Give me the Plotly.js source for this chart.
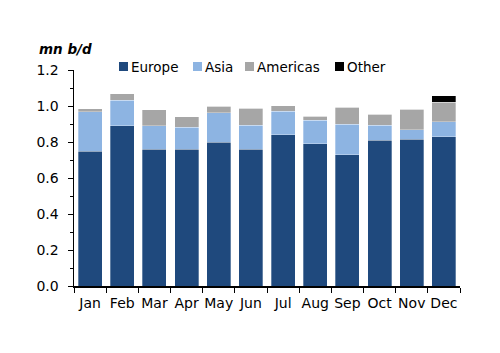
<!DOCTYPE html>
<html><head><meta charset="utf-8">
<script src="https://cdn.plot.ly/plotly-3.0.1.min.js"></script>
<style>body{margin:0;background:#fff}#c{width:500px;height:353px}</style>
</head><body><div id="c"></div>
<script>
const months = ["Jan","Feb","Mar","Apr","May","Jun","Jul","Aug","Sep","Oct","Nov","Dec"];
const europe   = [0.75, 0.89, 0.76, 0.76, 0.80, 0.76, 0.84, 0.79, 0.73, 0.81, 0.815, 0.83];
const asia     = [0.217, 0.141, 0.130, 0.121, 0.163, 0.134, 0.130, 0.130, 0.170, 0.083, 0.054, 0.083];
const americas = [0.018, 0.037, 0.089, 0.058, 0.037, 0.093, 0.031, 0.022, 0.092, 0.060, 0.112, 0.109];
const other    = [0, 0, 0, 0, 0, 0, 0, 0, 0, 0, 0, 0.035];
const seriesNames  = ["Europe", "Asia", "Americas", "Other"];
const seriesColors = ["#1F497D", "#8DB4E2", "#A6A6A6", "#000000"];
const seriesValues = [europe, asia, americas, other];

const FONT = "DejaVu Sans";
const font = {family: FONT, size: 14, color: "#000"};
const legFont = {family: FONT, size: 13.5, color: "#000"};

// plot area in pixels (for placing the hand-made legend)
const W = 500, H = 353, M = {l: 74, r: 40, t: 70, b: 67};
const pw = W - M.l - M.r, ph = H - M.t - M.b;
const px = v => (v - M.l) / pw;
const py = v => (H - M.b - v) / ph;

const data = seriesNames.map((n, i) => ({
  type: "bar", name: n, x: months, y: seriesValues[i], showlegend: false,
  marker: {color: seriesColors[i], line: {color: "rgba(255,255,255,0.6)", width: 0.5}}
}));

const legendLeft = [119, 193, 245, 335];
const shapes = [], annotations = [];
seriesNames.forEach((n, i) => {
  const x0 = legendLeft[i];
  shapes.push({type: "rect", xref: "paper", yref: "paper",
    x0: px(x0), x1: px(x0 + 9), y0: py(71), y1: py(62),
    fillcolor: seriesColors[i], line: {width: 0}});
  annotations.push({text: n, xref: "paper", yref: "paper", x: px(x0 + 10), y: py(66.5),
    xanchor: "left", yanchor: "middle", showarrow: false, font: legFont});
});
annotations.push({text: "<b><i>mn b/d</i></b>", xref: "paper", yref: "paper",
  x: px(37), y: py(49), xanchor: "left", yanchor: "middle", showarrow: false, font: legFont});

const layout = {
  width: W, height: H, margin: M,
  barmode: "stack", bargap: 0.25,
  font: font, showlegend: false,
  xaxis: {showline: true, linecolor: "#000", linewidth: 1.5, ticks: "outside",
    tickson: "boundaries", ticklen: 5, tickcolor: "#000", showgrid: false,
    tickangle: 0, tickfont: font, ticklabelstandoff: 4},
  yaxis: {range: [0, 1.2], dtick: 0.2, tickformat: ".1f", showline: true,
    linecolor: "#000", linewidth: 1.5, ticks: "outside", ticklen: 5, tickcolor: "#000",
    showgrid: false, zeroline: false, tickfont: font, ticklabelstandoff: 6,
    minor: {dtick: 0.1, ticks: "outside", ticklen: 3, tickcolor: "#000"}},
  shapes: shapes, annotations: annotations,
  paper_bgcolor: "#fff", plot_bgcolor: "#fff"
};
Plotly.newPlot("c", data, layout, {displayModeBar: false, staticPlot: true});
</script></body></html>
